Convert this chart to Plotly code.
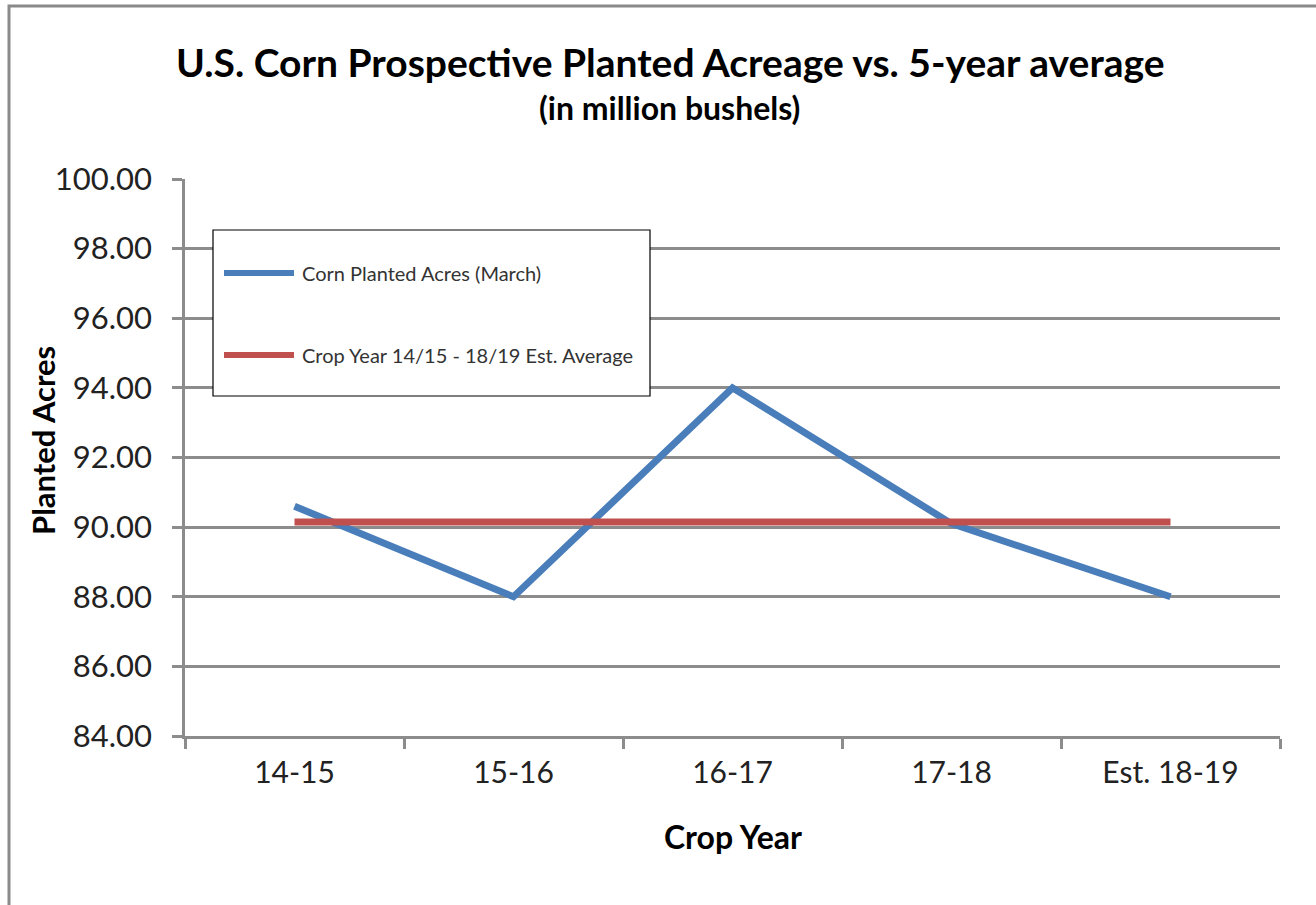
import plotly.graph_objects as go

# Crop years and planted acreage (million acres)
crop_years = ["14-15", "15-16", "16-17", "17-18", "Est. 18-19"]
planted_march = [90.6, 88.0, 94.0, 90.1, 88.0]
five_year_avg = [90.15, 90.15, 90.15, 90.15, 90.15]

y_ticks = [84, 86, 88, 90, 92, 94, 96, 98, 100]

series_names = ["Corn Planted Acres (March)", "Crop Year 14/15 - 18/19 Est. Average"]
series_colors = ["#4A7EBB", "#C0504D"]

W, H = 1316, 905
L, R, T, B = 185, 36, 179, 169
pw, ph = W - L - R, H - T - B


def px_x(x):
    return (x - L) / pw


def px_y(y):
    return (H - B - y) / ph


FONT = "Lato, Carlito, Calibri, sans-serif"
GRID = "#8C8C8C"

fig = go.Figure()
fig.add_trace(go.Scatter(x=crop_years, y=planted_march, mode="lines",
                         name=series_names[0],
                         line=dict(color=series_colors[0], width=7)))
fig.add_trace(go.Scatter(x=crop_years, y=five_year_avg, mode="lines",
                         name=series_names[1],
                         line=dict(color=series_colors[1], width=7)))

fig.update_layout(
    width=W, height=H,
    margin=dict(l=L, r=R, t=T, b=B),
    paper_bgcolor="white", plot_bgcolor="white",
    showlegend=False,
    font=dict(family=FONT, color="#1F1F1F"),
    xaxis=dict(type="category", range=[-0.5, 4.5],
               showgrid=False, showline=True, linecolor=GRID, linewidth=2.5,
               ticks="outside", tickson="boundaries", ticklen=10,
               tickcolor=GRID, tickwidth=2.5,
               tickfont=dict(size=30, family=FONT, color="#222"),
               ticklabelstandoff=8),
    yaxis=dict(range=[84, 100], tickvals=y_ticks,
               ticktext=[f"{v:.2f}" for v in y_ticks],
               showgrid=True, gridcolor=GRID, gridwidth=2.5,
               showline=True, linecolor=GRID, linewidth=2.5,
               ticks="outside", ticklen=10, tickcolor=GRID, tickwidth=2.5,
               tickfont=dict(size=31, family=FONT, color="#222"),
               ticklabelstandoff=14, zeroline=False),
)


def note(text, x, y, size, **kw):
    base = dict(text=text, x=px_x(x), y=px_y(y), xref="paper", yref="paper",
                xanchor="center", yanchor="middle", showarrow=False,
                font=dict(size=size, family=FONT, color=kw.pop("color", "#000")))
    base.update(kw)
    return base


annotations = [
    note("<b>U.S. Corn Prospective Planted Acreage vs. 5-year average</b>", 670, 62, 39),
    note("<b>(in million bushels)</b>", 669, 107, 32),
    note("<b>Planted Acres</b>", 43, 441, 31, textangle=-90),
    note("<b>Crop Year</b>", 733, 836, 32),
]

shapes = [
    # outer chart frame (left and top edges)
    dict(type="path", xref="paper", yref="paper",
         path=f"M {px_x(9)},{px_y(920)} L {px_x(9)},{px_y(6)} L {px_x(1330)},{px_y(6)}",
         line=dict(color="#8A8A8A", width=3)),
    # legend box
    dict(type="rect", xref="paper", yref="paper",
         x0=px_x(213), x1=px_x(650), y0=px_y(396), y1=px_y(230),
         fillcolor="white", line=dict(color="#000", width=1.2), layer="above"),
]

legend_rows = [273, 355]
for name, color, yy in zip(series_names, series_colors, legend_rows):
    shapes.append(dict(type="line", xref="paper", yref="paper",
                       x0=px_x(224), x1=px_x(294), y0=px_y(yy), y1=px_y(yy),
                       line=dict(color=color, width=6), layer="above"))
    annotations.append(note(name, 300, yy, 20, xanchor="left", color="#333"))

fig.update_layout(annotations=annotations, shapes=shapes)

fig.write_html("out.html")
